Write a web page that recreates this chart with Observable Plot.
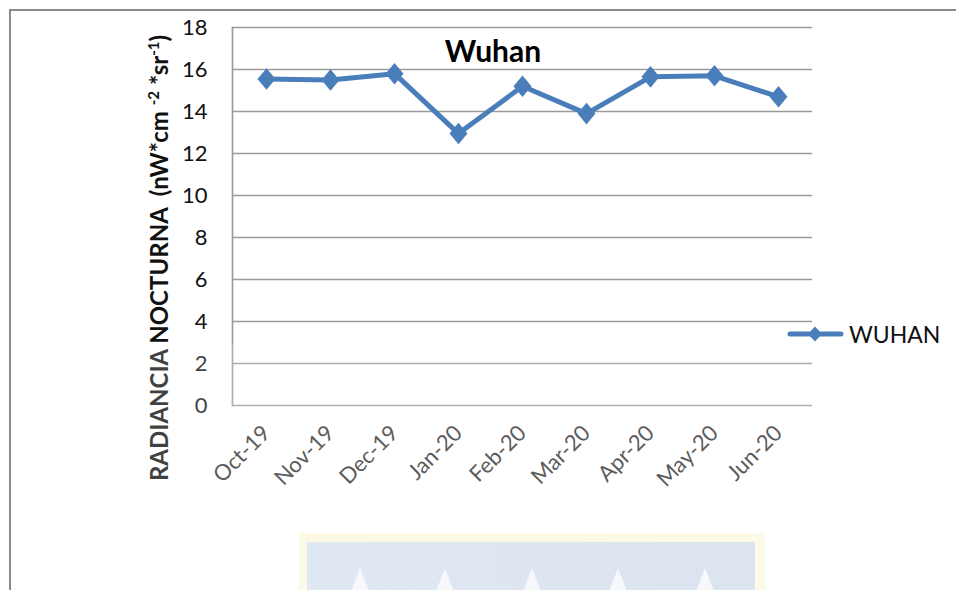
<!DOCTYPE html>
<html>
<head>
<meta charset="utf-8">
<script src="https://cdn.jsdelivr.net/npm/d3@7"></script>
<script src="https://cdn.jsdelivr.net/npm/@observablehq/plot@0.6"></script>
<style>
  html, body { margin: 0; padding: 0; background: #fff; }
  #wrap { position: relative; width: 956px; height: 590px; overflow: hidden; background: #fff; }
  #frame { position: absolute; left: 9px; top: 9px; width: 960px; height: 600px; border-top: 2px solid #8a8a8a; border-left: 2px solid #8a8a8a; box-sizing: border-box; }
  #wash { position: absolute; left: 92px; top: 345px; width: 726px; height: 260px; background: rgba(255,255,255,0.2); pointer-events: none; }
  #logoGlow { position: absolute; left: 299px; top: 533px; width: 466px; height: 70px; background: #fdf8e2; }
  #logo { position: absolute; left: 307px; top: 542px; width: 448px; height: 60px; background: linear-gradient(90deg, #d8e3f0, #d3deeb); }
  .tri { position: absolute; top: 568px; width: 20px; height: 26px; background: #f4f7fb; clip-path: polygon(50% 0, 100% 100%, 0 100%); }
  #chart { position: absolute; left: 0; top: 0; }
</style>
</head>
<body>
<div id="wrap">
  <div id="frame"></div>
  <div id="logoGlow"></div>
  <div id="logo"></div>
  <div class="tri" style="left:350px"></div>
  <div class="tri" style="left:435px"></div>
  <div class="tri" style="left:522px"></div>
  <div class="tri" style="left:608px"></div>
  <div class="tri" style="left:695px"></div>
  <div id="chart"></div>
  <div id="wash"></div>
</div>
<script>
const months = ["Oct-19", "Nov-19", "Dec-19", "Jan-20", "Feb-20", "Mar-20", "Apr-20", "May-20", "Jun-20"];
const wuhan = [15.55, 15.5, 15.8, 12.95, 15.2, 13.9, 15.65, 15.7, 14.7];
const yTicks = [0, 2, 4, 6, 8, 10, 12, 14, 16, 18];
const seriesName = "WUHAN";
const chartTitle = "Wuhan";

const data = months.map((m, i) => ({month: m, value: wuhan[i]}));
const blue = "#4a7ebb";

const tallDiamond = {
  draw(context, size) {
    const s = Math.sqrt(size / Math.PI);
    context.moveTo(0, -s * 1.2);
    context.lineTo(s, 0);
    context.lineTo(0, s * 1.2);
    context.lineTo(-s, 0);
    context.closePath();
  }
};

const chart = Plot.plot({
  width: 956,
  height: 590,
  marginLeft: 232,
  marginRight: 144,
  marginTop: 27,
  marginBottom: 185,
  style: {fontFamily: "Lato, 'Open Sans', sans-serif", background: "transparent", overflow: "visible"},
  x: {type: "point", domain: months, padding: 0.5, label: null},
  y: {domain: [0, 18], label: null},
  marks: [
    Plot.ruleY(yTicks, {stroke: "#9a9a9a", strokeWidth: 1.7}),
    Plot.frame({anchor: "left", stroke: "#9a9a9a", strokeWidth: 1.7}),
    Plot.axisY(yTicks, {tickSize: 0, tickPadding: 25, fontSize: 22, color: "#111", label: null}),
    Plot.axisX({tickSize: 0, tickRotate: -45, tickPadding: 24, fontSize: 22, color: "#333", label: null, textAnchor: "end", lineAnchor: "middle"}),
    Plot.line(data, {x: "month", y: "value", stroke: blue, strokeWidth: 5}),
    Plot.dot(data, {x: "month", y: "value", symbol: tallDiamond, r: 9, fill: blue, stroke: "none"})
  ]
});
document.getElementById("chart").appendChild(chart);

const svg = d3.select(chart);

// Title
svg.append("text")
  .attr("x", 493).attr("y", 62)
  .attr("text-anchor", "middle")
  .attr("font-family", "Lato, sans-serif")
  .attr("font-weight", "bold")
  .attr("font-size", 30)
  .attr("fill", "#000")
  .text(chartTitle);

// Y axis title with superscripts
const yt = svg.append("text")
  .attr("transform", "translate(168,258) rotate(-90)")
  .attr("text-anchor", "middle")
  .attr("font-family", "Lato, sans-serif")
  .attr("font-weight", "bold")
  .attr("font-size", 24)
  .attr("fill", "#111");
yt.append("tspan").text("RADIANCIA NOCTURNA\u00a0 (nW*cm ");
yt.append("tspan").attr("dy", -9).attr("font-size", 15).text("-2");
yt.append("tspan").attr("dy", 9).text(" *sr");
yt.append("tspan").attr("dy", -9).attr("font-size", 15).text("-1");
yt.append("tspan").attr("dy", 9).text(")");

// Legend
const lg = svg.append("g");
lg.append("line")
  .attr("x1", 790).attr("x2", 841).attr("y1", 334).attr("y2", 334)
  .attr("stroke", blue).attr("stroke-width", 5).attr("stroke-linecap", "round");
lg.append("path")
  .attr("d", "M815,326.5L822,334L815,341.5L808,334Z")
  .attr("fill", blue);
lg.append("text")
  .attr("x", 849).attr("y", 342.5)
  .attr("text-anchor", "start")
  .attr("font-family", "Lato, sans-serif")
  .attr("font-size", 23)
  .attr("fill", "#111")
  .text(seriesName);
</script>
</body>
</html>
